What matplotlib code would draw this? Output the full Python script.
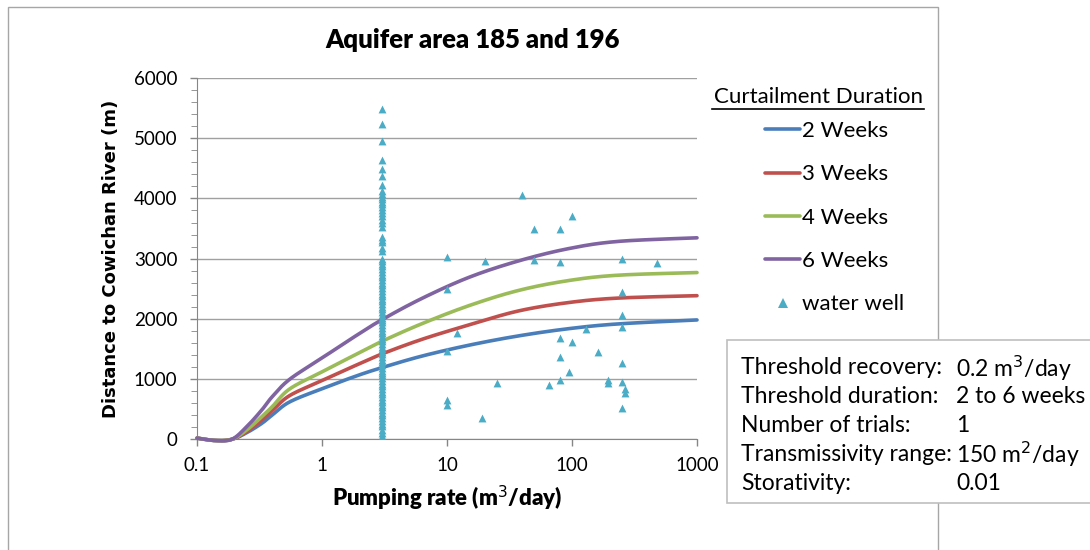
import numpy as np
import matplotlib.pyplot as plt
from matplotlib.lines import Line2D
from matplotlib.patches import Rectangle

plt.rcParams['font.family'] = ['Lato', 'DejaVu Sans']

# curve data
rate = [0.1, 0.14, 0.19, 0.25, 0.33, 0.4, 0.55, 1, 1.87, 3, 6.3, 15, 37, 93, 233, 1000]
wk2 = [20, -20, 0, 110, 265, 404, 620, 840, 1050, 1189, 1382, 1563, 1716, 1836, 1916, 1982]
wk3 = [20, -20, 0, 127, 320, 475, 725, 975, 1230, 1415, 1660, 1900, 2130, 2270, 2345, 2385]
wk4 = [20, -20, 0, 155, 376, 542, 835, 1120, 1410, 1625, 1920, 2220, 2470, 2635, 2725, 2769]
wk6 = [20, -20, 0, 210, 487, 708, 995, 1350, 1720, 1983, 2340, 2690, 2960, 3165, 3286, 3346]

# water wells at 3 m3/day
col_dist = [5480, 5240, 4960, 4630, 4490, 4380, 4230, 4120, 4080, 4030, 3990, 3940, 3900,
            3860, 3800, 3750, 3700, 3640, 3590, 3530, 3360, 3310, 3270, 3170, 3120,
            3000, 2960, 2910, 2870, 2820, 2780, 2730, 2690, 2640, 2600, 2560, 2510, 2470,
            2420, 2380, 2330, 2290, 2250, 2200, 2160, 2110, 2070, 2020, 1980, 1940, 1890,
            1850, 1800, 1760, 1720, 1670, 1630, 1580, 1540, 1500, 1450, 1410, 1360, 1320,
            1280, 1230, 1190, 1140, 1100, 1060, 1010, 970, 920, 880, 840, 790, 750, 700,
            660, 620, 570, 530, 480, 440, 400, 350, 310, 260, 220, 160, 110, 60, 30]
# other water wells
well_q = [40, 100, 50, 80, 10, 20, 50, 80, 250, 480, 10, 250, 250, 250, 130, 12, 80, 100,
          10, 160, 80, 250, 95, 80, 195, 195, 250, 25, 65, 265, 265, 10, 10, 250, 19]
well_d = [4050, 3700, 3500, 3500, 3020, 2960, 2985, 2945, 2995, 2920, 2500, 2450, 2060,
          1870, 1830, 1760, 1675, 1610, 1465, 1455, 1365, 1260, 1120, 985, 985, 930, 945,
          940, 895, 835, 775, 650, 570, 525, 350]


def smooth(xs, ys, n=24):
    # Catmull-Rom through the points, in log-x space (like Excel's smoothed line)
    px = np.log10(xs)
    py = np.asarray(ys, float)
    outx, outy = [], []
    m = len(px)
    for i in range(m - 1):
        i0, i3 = max(i - 1, 0), min(i + 2, m - 1)
        t = np.linspace(0, 1, n, endpoint=False)
        for arr, out in ((px, outx), (py, outy)):
            p0, p1, p2, p3 = arr[i0], arr[i], arr[i + 1], arr[i3]
            out.extend(0.5 * (2 * p1 + (-p0 + p2) * t + (2 * p0 - 5 * p1 + 4 * p2 - p3) * t ** 2
                              + (-p0 + 3 * p1 - 3 * p2 + p3) * t ** 3))
    outx.append(px[-1])
    outy.append(py[-1])
    return 10 ** np.array(outx), np.array(outy)


fig = plt.figure(figsize=(10.9, 5.5), dpi=100)
fig.patches.append(Rectangle((8/1090, -0.1), 930/1090, 1.1 - 7/550, transform=fig.transFigure,
                             fill=False, ec='#a6a6a6', lw=1))
ax = fig.add_axes([197/1090, 110.7/550, 500/1090, 361.3/550])

colors = ['#4a7ebb', '#c0504d', '#9bbb59', '#8064a2']
labels = ['2 Weeks', '3 Weeks', '4 Weeks', '6 Weeks']
handles = []
for ys, c, lab in zip([wk2, wk3, wk4, wk6], colors, labels):
    sx, sy = smooth(rate, ys)
    ln, = ax.plot(sx, sy, color=c, lw=2.6, label=lab, clip_on=False, zorder=3,
                  solid_capstyle='round')
    handles.append(ln)

ax.scatter([3] * len(col_dist), col_dist, marker='^', s=32, color='#4bacc6', zorder=4, lw=0)
ax.scatter(well_q, well_d, marker='^', s=32, color='#4bacc6', zorder=4, lw=0)

ax.set_xscale('log')
ax.set_xlim(0.1, 1000)
ax.set_ylim(0, 6000)
ax.set_xticks([0.1, 1, 10, 100, 1000])
ax.set_xticklabels(['0.1', '1', '10', '100', '1000'])
ax.minorticks_off()
ax.set_yticks(range(0, 6001, 1000))
ax.set_yticks(range(0, 6001, 200), minor=True)
ax.tick_params(axis='both', labelsize=13.5, colors='#000000', length=5, width=1)
ax.tick_params(axis='x', pad=8)
ax.tick_params(axis='y', pad=9)
ax.tick_params(axis='y', which='minor', length=4, color='#868686')
ax.tick_params(axis='both', which='major', color='#868686')
ax.tick_params(axis='x', which='minor', bottom=False)
ax.grid(axis='y', color='#a0a0a0', lw=1)
ax.set_axisbelow(True)
for s in ['top', 'right']:
    ax.spines[s].set_visible(False)
for s in ['left', 'bottom']:
    ax.spines[s].set_color('#868686')

ax.set_xlabel('Pumping rate (m$^3$/day)', fontsize=16, fontweight='heavy', labelpad=7)
ax.set_ylabel('Distance to Cowichan River (m)', fontsize=13, fontweight='bold',
              family='DejaVu Sans', labelpad=10)
fig.text(473/1090, 1 - 40/550, 'Aquifer area 185 and 196', ha='center', va='center',
         fontsize=18.5, fontweight='heavy')

# legend
fig.text(818/1090, 1 - 97/550, 'Curtailment Duration', ha='center', va='center', fontsize=16)
fig.add_artist(Line2D([712/1090, 924/1090], [1 - 109/550, 1 - 109/550], color='black', lw=1.2))
well_handle = Line2D([], [], marker='^', ls='none', color='#4bacc6', markersize=6.5, mew=0)
fig.legend(handles + [well_handle], labels + ['water well'], loc='upper left',
           bbox_to_anchor=(765/1090, 1 - 121/550), frameon=False, fontsize=16,
           handlelength=1.58, handletextpad=0.1, labelspacing=1.05, borderpad=0,
           borderaxespad=0)

# info box
fig.patches.append(Rectangle((727/1090, 1 - 503/550), 400/1090, 163/550,
                             transform=fig.transFigure, fc='white', ec='#bfbfbf', lw=1.2))
info = [('Threshold recovery:', '0.2 m$^3$/day'),
        ('Threshold duration:', '2 to 6 weeks'),
        ('Number of trials:', '1'),
        ('Transmissivity range:', '150 m$^2$/day'),
        ('Storativity:', '0.01')]
for i, (k, v) in enumerate(info):
    y = 1 - (368 + 28.8 * i) / 550
    fig.text(741/1090, y, k, ha='left', va='center', fontsize=16.5)
    fig.text(956/1090, y, v, ha='left', va='center', fontsize=16.5)

fig.savefig('out.png', dpi=100)
